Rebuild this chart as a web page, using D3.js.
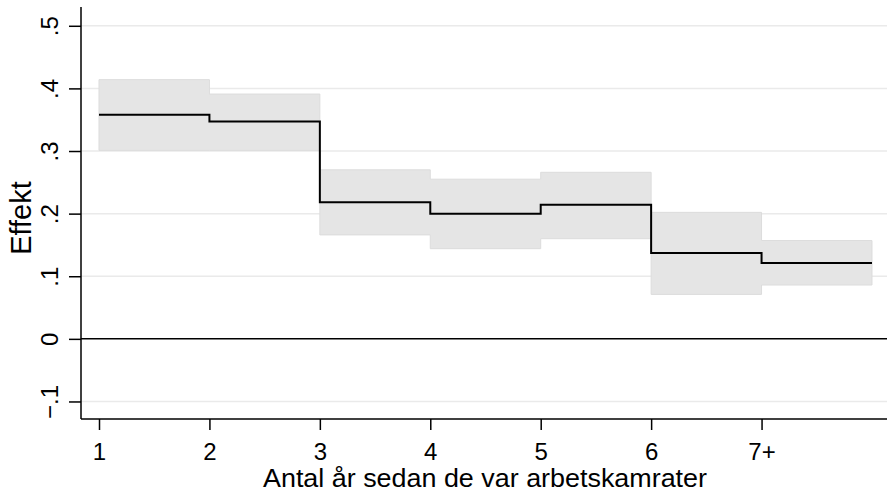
<!DOCTYPE html>
<html>
<head>
<meta charset="utf-8">
<script src="https://d3js.org/d3.v7.min.js"></script>
<style>
  body { margin: 0; background: #fff; }
  text { font-family: "Liberation Sans", Arial, sans-serif; fill: #000; }
</style>
</head>
<body>
<svg id="chart" width="887" height="496"></svg>
<script>
  // values
  var years = [1, 2, 3, 4, 5, 6, 7];
  var effekt = [0.358, 0.347, 0.218, 0.200, 0.214, 0.137, 0.121];
  var ciLow = [0.301, 0.301, 0.166, 0.144, 0.160, 0.071, 0.086];
  var ciHigh = [0.414, 0.391, 0.270, 0.255, 0.266, 0.202, 0.157];
  var xTickLabels = ["1", "2", "3", "4", "5", "6", "7+"];
  var yTicks = [-0.1, 0, 0.1, 0.2, 0.3, 0.4, 0.5];
  var lastEnd = 8; // last step runs to 8

  var svg = d3.select('#chart');
  var plotL = 81, plotR = 887, plotT = 7, plotB = 419;

  var x = d3.scaleLinear().domain([0.837, 8.136]).range([plotL, plotR]);
  var y = d3.scaleLinear().domain([-0.128, 0.530]).range([plotB, plotT]);

  // step data incl. closing point
  var steps = years.map(function(d, i) {
    return { x: d, v: effekt[i], lo: ciLow[i], hi: ciHigh[i] };
  });
  var last = steps[steps.length - 1];
  steps.push({ x: lastEnd, v: last.v, lo: last.lo, hi: last.hi });

  // grid lines
  svg.append('g').selectAll('line')
    .data(yTicks.filter(function(d) { return d !== 0; }))
    .enter().append('line')
    .attr('x1', plotL).attr('x2', plotR)
    .attr('y1', function(d) { return y(d); })
    .attr('y2', function(d) { return y(d); })
    .attr('stroke', '#eaeaea')
    .attr('stroke-width', 1.5);

  // confidence band
  var area = d3.area()
    .curve(d3.curveStepAfter)
    .x(function(d) { return x(d.x); })
    .y0(function(d) { return y(d.lo); })
    .y1(function(d) { return y(d.hi); });

  svg.append('path')
    .datum(steps)
    .attr('d', area)
    .attr('fill', '#e5e5e5')
    .attr('stroke', '#dcdcdc')
    .attr('stroke-width', 1);

  // zero line
  svg.append('line')
    .attr('x1', plotL).attr('x2', plotR)
    .attr('y1', y(0)).attr('y2', y(0))
    .attr('stroke', '#000')
    .attr('stroke-width', 1.5);

  // step line
  var line = d3.line()
    .curve(d3.curveStepAfter)
    .x(function(d) { return x(d.x); })
    .y(function(d) { return y(d.v); });

  svg.append('path')
    .datum(steps)
    .attr('d', line)
    .attr('fill', 'none')
    .attr('stroke', '#000')
    .attr('stroke-width', 2);

  // y axis
  var yFmt = function(d) {
    if (d === 0) return '0';
    return d3.format('.1f')(d).replace('0.', '.');
  };
  var yAxis = d3.axisLeft(y).tickValues(yTicks).tickSize(12).tickFormat(yFmt);
  var gy = svg.append('g').attr('transform', 'translate(' + plotL + ',0)').call(yAxis);
  gy.select('.domain').attr('d', 'M0,' + plotT + 'V' + plotB).attr('stroke-width', 1.5);
  gy.selectAll('.tick line').attr('stroke-width', 1.5);
  gy.selectAll('.tick text')
    .attr('x', null).attr('dy', null)
    .attr('transform', 'translate(-23.5,0) rotate(-90)')
    .attr('text-anchor', 'middle')
    .style('font-size', '24px');

  // x axis
  var xAxis = d3.axisBottom(x).tickValues(years).tickSize(11)
    .tickFormat(function(d, i) { return xTickLabels[i]; });
  var gx = svg.append('g').attr('transform', 'translate(0,' + plotB + ')').call(xAxis);
  gx.select('.domain').attr('d', 'M' + plotL + ',0H' + plotR).attr('stroke-width', 1.5);
  gx.selectAll('.tick line').attr('stroke-width', 1.5);
  gx.selectAll('.tick text')
    .attr('y', 41).attr('dy', null)
    .style('font-size', '24px');

  // axis titles
  svg.append('text')
    .attr('x', 485).attr('y', 487)
    .attr('text-anchor', 'middle')
    .attr('textLength', 444)
    .attr('lengthAdjust', 'spacingAndGlyphs')
    .style('font-size', '25px')
    .text('Antal år sedan de var arbetskamrater');

  svg.append('text')
    .attr('transform', 'translate(31,218) rotate(-90)')
    .attr('text-anchor', 'middle')
    .style('font-size', '29px')
    .text('Effekt');
</script>
</body>
</html>
